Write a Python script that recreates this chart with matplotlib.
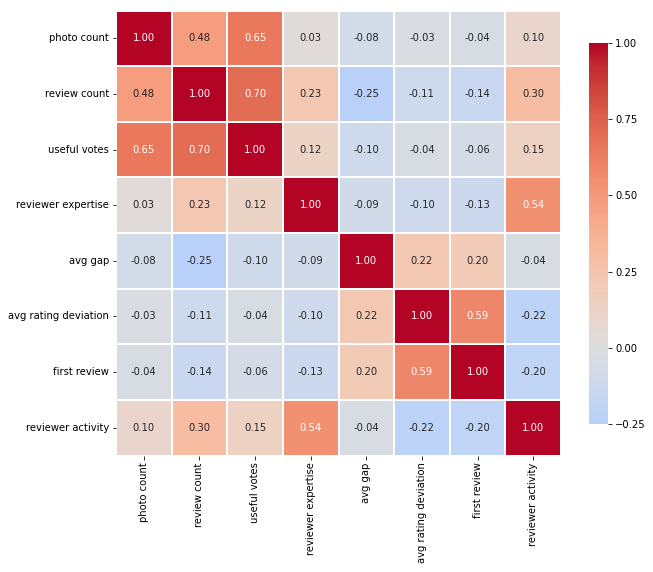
import matplotlib
matplotlib.use('Agg')

import numpy as np
import pandas as pd
import matplotlib.pyplot as plt
import seaborn as sns

##########
features = ['photo count', 'review count', 'useful votes', 'reviewer expertise',
            'avg gap', 'avg rating deviation', 'first review', 'reviewer activity']

photo_count = [1.00, 0.48, 0.65, 0.03, -0.08, -0.03, -0.04, 0.10]
review_count = [0.48, 1.00, 0.70, 0.23, -0.25, -0.11, -0.14, 0.30]
useful_votes = [0.65, 0.70, 1.00, 0.12, -0.10, -0.04, -0.06, 0.15]
reviewer_expertise = [0.03, 0.23, 0.12, 1.00, -0.09, -0.10, -0.13, 0.54]
avg_gap = [-0.08, -0.25, -0.10, -0.09, 1.00, 0.22, 0.20, -0.04]
avg_rating_deviation = [-0.03, -0.11, -0.04, -0.10, 0.22, 1.00, 0.59, -0.22]
first_review = [-0.04, -0.14, -0.06, -0.13, 0.20, 0.59, 1.00, -0.20]
reviewer_activity = [0.10, 0.30, 0.15, 0.54, -0.04, -0.22, -0.20, 1.00]

corr = pd.DataFrame([photo_count, review_count, useful_votes, reviewer_expertise,
                     avg_gap, avg_rating_deviation, first_review, reviewer_activity],
                    index=features, columns=features)

##########
fig = plt.figure(figsize=(653/72, 572/72), dpi=72)
ax = fig.add_axes([116/653, 1-456/572, 445/653, 446/572])
cax = fig.add_axes([589/653, 1-424/572, 19/653, 381/572])

sns.heatmap(corr, ax=ax, cbar_ax=cax, cmap='coolwarm', center=0, vmax=1,
            annot=True, fmt='.2f', linewidths=1.5, square=True,
            annot_kws={'fontsize': 10})

ax.tick_params(axis='both', labelsize=10)
plt.setp(ax.get_xticklabels(), rotation=90)
plt.setp(ax.get_yticklabels(), rotation=0)
cax.tick_params(labelsize=10)
cax.set_yticks([-0.25, 0, 0.25, 0.5, 0.75, 1.0])
cax.set_yticklabels(['−0.25', '0.00', '0.25', '0.50', '0.75', '1.00'])

fig.savefig('out.png', dpi=72)
